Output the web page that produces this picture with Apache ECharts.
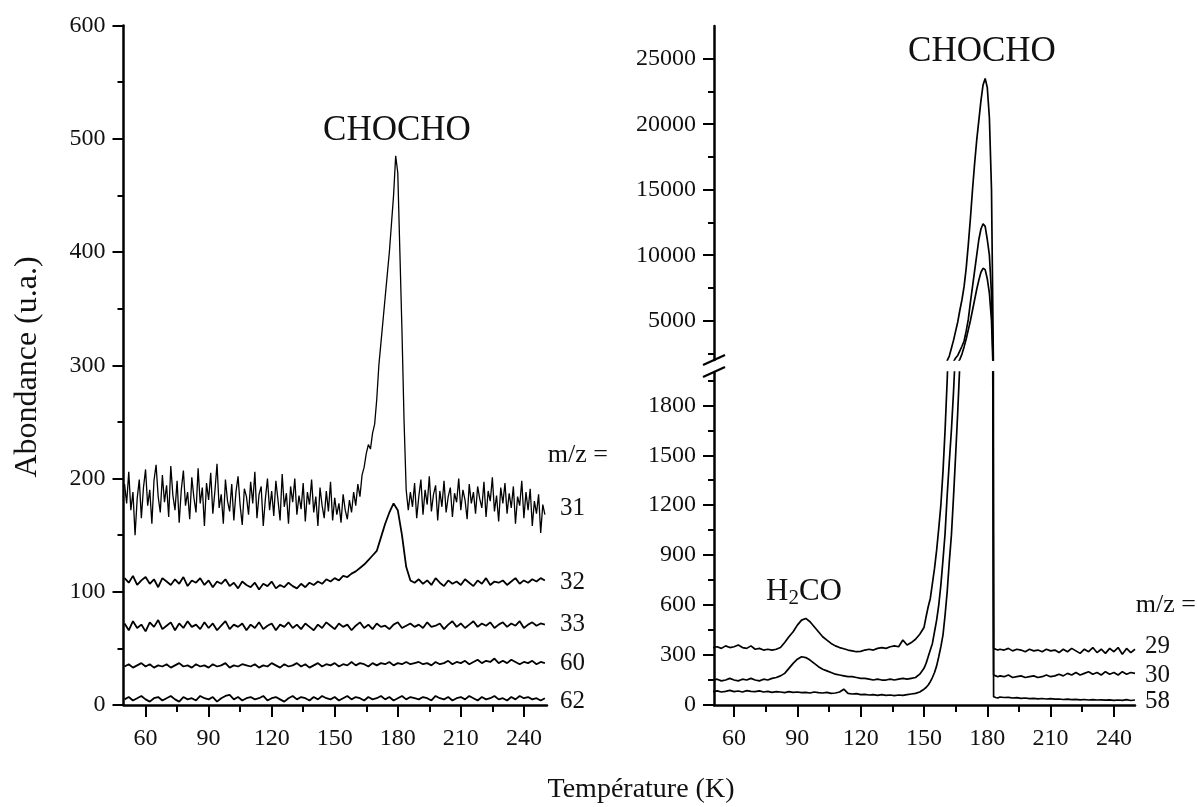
<!DOCTYPE html>
<html>
<head>
<meta charset="utf-8">
<script src="https://cdn.jsdelivr.net/npm/echarts@6/dist/echarts.min.js"></script>
<style>html,body{margin:0;padding:0;background:#fff}#c{width:1198px;height:807px}</style>
</head>
<body>
<div id="c"></div>
<script>
// ---------- sampling temperatures (K) ----------
const tempsLeftFine = [];
for (let t = 50; t <= 250; t += 1) tempsLeftFine.push(t);
const tempsLeft = [];
for (let t = 50; t <= 250; t += 2) tempsLeft.push(t);
const tempsRight = [];
for (let t = 50; t <= 150; t += 2) tempsRight.push(t);
for (let t = 151; t <= 185; t += 1) tempsRight.push(t);
for (let t = 186; t <= 250; t += 2) tempsRight.push(t);

// ---------- left panel series (u.a.) ----------
const left31 = [
195,178,206,172,188,150,182,199,165,192,
208,176,190,160,198,212,184,170,203,179,
194,166,211,185,172,198,161,190,207,176,
188,164,201,183,170,209,178,192,158,196,
181,205,169,189,213,174,186,160,199,180,
171,195,163,188,202,176,159,191,184,168,
197,178,206,165,186,193,158,182,200,172,
189,167,198,181,163,204,175,187,160,193,
179,200,168,185,173,196,162,188,177,199,
170,184,158,192,176,165,189,171,197,163,
183,168,178,161,186,172,164,181,170,188,
176,195,184,203,210,222,230,226,240,248,
270,300,320,340,360,380,400,425,450,485,
470,400,330,250,190,172,188,175,196,165,
184,199,168,190,177,202,171,186,194,163,
189,175,198,170,184,192,166,187,179,200,
172,190,181,164,195,178,188,169,193,182,
174,197,166,189,180,201,171,185,162,192,
178,196,169,187,174,193,160,184,176,198,
165,188,172,191,158,180,169,186,152,177,
168];
const left32 = [
112,108,114,106,110,113,107,111,104,112,
109,106,111,107,113,105,110,108,112,106,
110,104,109,107,111,105,108,103,109,106,
104,108,102,107,105,109,103,106,104,108,
105,103,107,104,108,106,109,107,111,109,
112,110,114,113,116,118,121,124,128,132,
136,148,160,170,178,172,150,122,110,108,
111,107,110,106,112,108,105,110,107,109,
106,111,108,105,110,107,112,106,109,108,
110,106,109,112,107,110,108,111,109,112,
110];
const left33 = [
72,66,74,68,71,65,73,69,75,67,
70,73,66,72,68,74,69,71,67,73,
68,72,66,70,74,67,71,69,72,66,
71,68,73,67,70,72,66,71,69,73,
68,71,67,72,69,66,71,68,73,70,
67,72,69,71,66,70,73,68,71,67,
72,69,70,67,71,73,68,70,72,69,
71,68,73,69,70,72,67,71,74,69,
72,68,71,74,69,72,70,73,68,71,
73,69,72,70,74,68,71,73,70,72,
71];
const left60 = [
34,36,33,35,37,34,36,33,35,34,
36,33,35,37,34,35,33,36,34,35,
33,36,34,35,37,33,35,34,36,35,
34,36,33,35,34,37,35,33,36,34,
35,37,34,36,33,35,37,34,36,35,
37,34,36,35,38,35,37,36,34,37,
35,37,36,38,35,37,36,38,36,37,
38,36,37,35,38,36,37,39,36,38,
37,39,36,38,40,37,39,38,41,37,
39,37,40,38,36,38,37,39,36,38,
37];
const left62 = [
5,7,4,6,8,5,3,6,7,4,
6,8,5,3,7,5,6,4,8,6,
5,7,3,6,8,9,5,7,4,6,
7,5,6,8,4,6,7,5,3,6,
8,5,7,6,4,7,5,8,6,5,
7,4,6,8,5,7,6,4,7,5,
6,8,5,7,4,6,8,5,7,6,
5,7,6,4,8,6,5,7,4,6,
7,5,8,6,4,7,5,6,8,5,
6,4,7,5,8,6,7,5,6,4,
6];

// ---------- right panel series (u.a.) ----------
const right29 = [
345,350,340,355,345,350,360,345,340,355,
335,340,330,335,330,335,345,375,410,440,
480,510,520,500,470,440,410,390,370,355,
345,338,330,325,320,322,330,335,330,340,
345,340,350,355,350,390,360,375,395,425,
465,
530,590,640,730,820,930,1060,1200,1400,1650,
1950,2300,2900,3500,4200,4900,5800,6600,7600,9000,
10800,12800,15000,17000,18800,20300,21800,23000,23500,22800,
20500,15000,340,335,330,
335,330,340,325,335,330,320,335,325,330,
320,335,325,330,315,335,320,340,325,310,
335,320,345,315,335,310,340,320,345,305,
340,315,335];
const right30 = [
150,155,145,150,160,150,145,155,150,160,
150,145,155,150,160,165,175,190,220,250,
275,290,285,270,250,230,215,205,195,185,
180,175,170,170,165,160,160,155,150,155,
150,150,155,150,155,160,155,160,165,185,
220,
250,290,330,370,440,510,600,720,870,1030,
1260,1460,1650,1880,2150,2350,2700,3050,3450,4200,
5100,6400,7600,8800,10000,11200,12000,12400,12200,11200,
10000,7000,180,175,170,
175,170,180,165,170,175,165,170,175,165,
170,180,170,175,185,175,190,180,195,180,
190,200,185,195,180,200,185,195,180,200,
185,195,190];
const right58 = [
80,85,78,82,88,80,84,78,86,82,
80,85,78,82,76,80,78,74,80,76,
78,74,76,72,78,74,72,76,70,72,
78,95,70,66,68,62,64,60,62,58,
62,58,60,56,60,58,62,66,70,78,
95,
105,120,140,165,195,235,290,350,420,540,
680,860,1020,1250,1500,1760,2050,2450,3000,3600,
4300,5000,5800,6600,7400,8100,8700,9000,8900,8200,
7100,5000,50,45,42,
48,45,46,42,44,40,42,38,40,37,
39,36,38,35,36,33,35,32,34,31,
33,30,32,30,31,29,31,28,30,28,
32,27,30];

// ---------- ticks & labels ----------
const xTicks = [60, 90, 120, 150, 180, 210, 240];
const xMinorTicks = [75, 105, 135, 165, 195, 225];
const leftYTicks = [0, 100, 200, 300, 400, 500, 600];
const leftYMinor = [50, 150, 250, 350, 450, 550];
const rightLowTicks = [0, 300, 600, 900, 1200, 1500, 1800];
const rightLowMinor = [150, 450, 750, 1050, 1350, 1650, 1950];
const rightUpTicks = [5000, 10000, 15000, 20000, 25000];
const rightUpMinor = [2500, 7500, 12500, 17500, 22500];
const mzLeft = ['31', '32', '33', '60', '62'];
const mzRight = ['29', '30', '58'];
const peakLabel = 'CHOCHO';
const yTitle = 'Abondance (u.a.)';
const xTitle = 'Température (K)';

const FONT = "'Liberation Serif', 'Times New Roman', serif";
const BLACK = '#111';
const plain = v => String(v);

function pairs(temps, vals) { return temps.map((t, i) => [t, vals[i]]); }

function mainX(grid, min, max, show) {
  return {
    type: 'value', gridIndex: grid, min: min, max: max, show: show,
    splitLine: {show: false},
    axisLine: {show: true, onZero: false, lineStyle: {color: '#000', width: 2.5}},
    axisTick: {show: true, customValues: xTicks, length: 12, lineStyle: {color: '#000', width: 2}},
    axisLabel: {show: true, customValues: xTicks, formatter: plain, margin: 22, color: BLACK, fontFamily: FONT, fontSize: 24}
  };
}
function minorX(grid, min, max) {
  return {
    type: 'value', gridIndex: grid, min: min, max: max, position: 'bottom',
    splitLine: {show: false},
    axisLine: {show: false, onZero: false},
    axisTick: {show: true, customValues: xMinorTicks, length: 7, lineStyle: {color: '#000', width: 2}},
    axisLabel: {show: false}
  };
}
function mainY(grid, min, max, ticks) {
  return {
    type: 'value', gridIndex: grid, min: min, max: max,
    splitLine: {show: false},
    axisLine: {show: true, onZero: false, lineStyle: {color: '#000', width: 2.5}},
    axisTick: {show: true, customValues: ticks, length: 11, lineStyle: {color: '#000', width: 2}},
    axisLabel: {show: true, customValues: ticks, formatter: plain, margin: 18, color: BLACK, fontFamily: FONT, fontSize: 24}
  };
}
function minorY(grid, min, max, ticks) {
  return {
    type: 'value', gridIndex: grid, min: min, max: max, position: 'left',
    splitLine: {show: false},
    axisLine: {show: false, onZero: false},
    axisTick: {show: true, customValues: ticks, length: 6, lineStyle: {color: '#000', width: 2}},
    axisLabel: {show: false}
  };
}
function line(name, temps, vals, xi, yi, w) {
  return {
    name: name, type: 'line', xAxisIndex: xi, yAxisIndex: yi,
    data: pairs(temps, vals), showSymbol: false, symbol: 'none',
    sampling: null, clip: true, silent: true,
    lineStyle: {color: '#000', width: w}
  };
}

const chart = echarts.init(document.getElementById('c'), null, {renderer: 'canvas'});
chart.setOption({
  animation: false,
  backgroundColor: '#fff',
  grid: [
    {left: 123.5, right: 651, top: 25.5, bottom: 102},   // left panel
    {left: 714, right: 63, top: 372, bottom: 102},       // right lower
    {left: 714, right: 63, top: 26, bottom: 447}         // right upper
  ],
  xAxis: [
    mainX(0, 49.5, 251, true),
    minorX(0, 49.5, 251),
    mainX(1, 50.5, 250, true),
    minorX(1, 50.5, 250),
    {type: 'value', gridIndex: 2, min: 50.5, max: 250, show: false}
  ],
  yAxis: [
    mainY(0, 0, 600, leftYTicks),
    minorY(0, 0, 600, leftYMinor),
    mainY(1, 0, 2000, rightLowTicks),
    minorY(1, 0, 2000, rightLowMinor),
    mainY(2, 2000, 27500, rightUpTicks),
    minorY(2, 2000, 27500, rightUpMinor)
  ],
  series: [
    line(mzLeft[0], tempsLeftFine, left31, 0, 0, 1.3),
    line(mzLeft[1], tempsLeft, left32, 0, 0, 1.8),
    line(mzLeft[2], tempsLeft, left33, 0, 0, 1.8),
    line(mzLeft[3], tempsLeft, left60, 0, 0, 1.8),
    line(mzLeft[4], tempsLeft, left62, 0, 0, 1.8),
    line(mzRight[0], tempsRight, right29, 2, 2, 1.7),
    line(mzRight[1], tempsRight, right30, 2, 2, 1.7),
    line(mzRight[2], tempsRight, right58, 2, 2, 1.7),
    line(mzRight[0], tempsRight, right29, 4, 4, 1.7),
    line(mzRight[1], tempsRight, right30, 4, 4, 1.7),
    line(mzRight[2], tempsRight, right58, 4, 4, 1.7)
  ]
});

// ---------- annotations ----------
function txt(text, x, y, size, align, extra) {
  return Object.assign({
    type: 'text', x: x, y: y, silent: true,
    style: {text: text, fill: BLACK, font: size + 'px ' + FONT, textAlign: align || 'center', textVerticalAlign: 'middle'}
  }, extra || {});
}
const pLow = chart.convertToPixel({xAxisIndex: 2, yAxisIndex: 2}, [50.5, 2000]);
const pUp = chart.convertToPixel({xAxisIndex: 4, yAxisIndex: 4}, [50.5, 2000]);
function slash(p) {
  return {type: 'line', silent: true, shape: {x1: p[0] - 11, y1: p[1] + 5, x2: p[0] + 11, y2: p[1] - 5},
          style: {stroke: '#000', lineWidth: 2.2}};
}
const leftMzY = [508, 582, 624, 663, 701];
const rightMzY = [646, 675, 701];
const graphics = [
  slash(pUp), slash(pLow),
  txt(peakLabel, 397, 131, 35),
  txt(peakLabel, 982, 52, 35),
  txt('m/z =', 608, 455, 26, 'right'),
  txt('m/z =', 1196, 605, 26, 'right'),
  {
    type: 'text', x: 804, y: 592, silent: true,
    style: {
      text: '{n|H}{s|2}{n|CO}', textAlign: 'center', textVerticalAlign: 'middle',
      rich: {
        n: {fontFamily: FONT, fontSize: 31, fill: BLACK},
        s: {fontFamily: FONT, fontSize: 21, fill: BLACK, padding: [12, 0, 0, 0]}
      }
    }
  },
  txt(yTitle, 28, 367, 32, 'center', {rotation: Math.PI / 2}),
  txt(xTitle, 641, 790, 28)
];
mzLeft.forEach((m, i) => graphics.push(txt(m, 560, leftMzY[i], 25, 'left')));
mzRight.forEach((m, i) => graphics.push(txt(m, 1145, rightMzY[i], 25, 'left')));
chart.setOption({graphic: graphics});
</script>
</body>
</html>
